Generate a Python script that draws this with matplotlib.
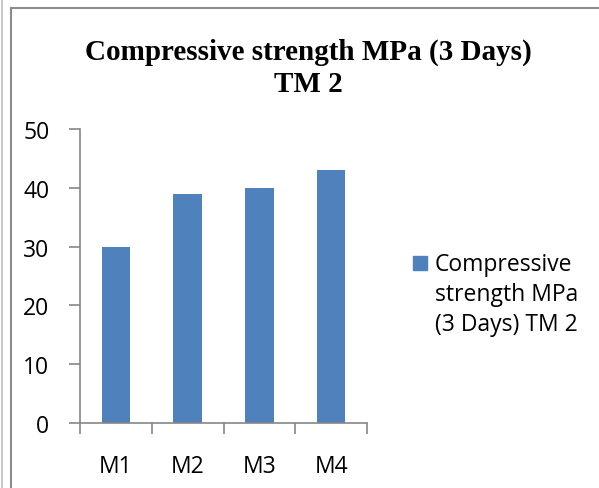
import matplotlib.pyplot as plt
from matplotlib.lines import Line2D
from matplotlib.patches import Rectangle

mixes = ['M1', 'M2', 'M3', 'M4']
strength = [30, 39, 40, 43]
series_name = 'Compressive strength MPa (3 Days) TM 2'
y_ticks = [0, 10, 20, 30, 40, 50]

W, H = 599, 489
bar_color = '#4F81BD'
axis_color = '#868686'

fig = plt.figure(figsize=(W / 100, H / 100), dpi=100)

# frame lines around the chart area
fig.add_artist(Line2D([2 / W, 2 / W], [0, 1], color='#c8c8c8', lw=1.5))
fig.add_artist(Line2D([11 / W, 11 / W], [0, 1 - 9 / H], color='#8c8c8c', lw=1.5))
fig.add_artist(Line2D([11 / W, 1], [1 - 9 / H, 1 - 9 / H], color='#8c8c8c', lw=1.5))

ax = fig.add_axes([80 / W, 1 - 424 / H, 287 / W, 294 / H])
ax.bar(range(len(mixes)), strength, width=0.4, color=bar_color)
ax.set_xlim(-0.5, len(mixes) - 0.5)
ax.set_ylim(0, 50)
ax.set_yticks(y_ticks)
ax.set_xticks(range(len(mixes)))
ax.set_xticklabels(mixes)
ax.set_xticks([i - 0.5 for i in range(len(mixes) + 1)], minor=True)

for side in ['top', 'right']:
    ax.spines[side].set_visible(False)
for side in ['left', 'bottom']:
    ax.spines[side].set_color(axis_color)
    ax.spines[side].set_linewidth(1.2)

ax.tick_params(axis='y', length=8, width=1.2, color=axis_color, labelsize=16.5, pad=14)
ax.tick_params(axis='x', which='major', length=0, labelsize=16.5, pad=22)
ax.tick_params(axis='x', which='minor', length=8, width=1.2, color=axis_color)
for lbl in ax.get_xticklabels() + ax.get_yticklabels():
    lbl.set_family('Open Sans')

fig.text(308 / W, 1 - 52 / H, 'Compressive strength MPa (3 Days)', ha='center', va='center',
         fontsize=21, fontweight='bold', family='Liberation Serif')
fig.text(308 / W, 1 - 84 / H, 'TM 2', ha='center', va='center',
         fontsize=21, fontweight='bold', family='Liberation Serif')

# legend entry: colour square plus wrapped series name
fig.add_artist(Rectangle((413 / W, 1 - 271 / H), 14 / W, 14 / H, color=bar_color))
legend_lines = ['Compressive', 'strength MPa', '(3 Days) TM 2']
for i, line in enumerate(legend_lines):
    fig.text(435 / W, 1 - (265 + 30 * i) / H, line, ha='left', va='center',
             fontsize=16.5, family='Open Sans')

fig.savefig('out.png', dpi=100)
